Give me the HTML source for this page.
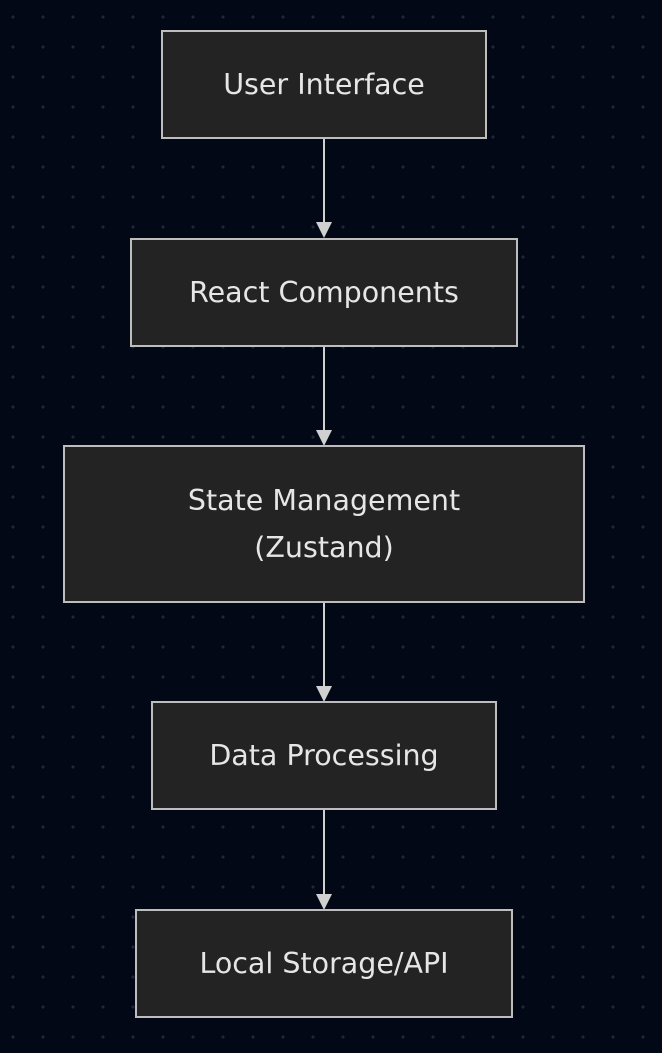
<!DOCTYPE html>
<html><head><meta charset="utf-8"><style>
html,body{margin:0;padding:0}
body{width:662px;height:1053px;background-color:#020816;
background-image:radial-gradient(circle,#20273a 1.4px,transparent 1.7px);
background-size:30px 30px;background-position:-2px 2px;position:relative;overflow:hidden;
font-family:"DejaVu Sans","Liberation Sans",sans-serif;}
.b{position:absolute;box-sizing:border-box;background:#232323;border:2px solid #bdbdbd;color:#e6e6e6;
display:flex;align-items:center;justify-content:center;text-align:center;font-size:28.5px;line-height:47px}
</style></head><body>
<svg width="662" height="1053" style="position:absolute;left:0;top:0">
<g stroke="#d0d0d0" stroke-width="2">
<line x1="324" y1="138" x2="324" y2="225"/>
<line x1="324" y1="346" x2="324" y2="432"/>
<line x1="324" y1="602" x2="324" y2="688"/>
<line x1="324" y1="809" x2="324" y2="896"/>
</g>
<g fill="#d0d0d0">
<polygon points="316,222 332,222 324,238"/>
<polygon points="316,430 332,430 324,446"/>
<polygon points="316,686 332,686 324,702"/>
<polygon points="316,894 332,894 324,910"/>
</g>
</svg>
<div class="b" style="left:161px;top:30px;width:326px;height:109px">User Interface</div>
<div class="b" style="left:130px;top:238px;width:388px;height:109px">React Components</div>
<div class="b" style="left:63px;top:445px;width:522px;height:158px">State Management<br>(Zustand)</div>
<div class="b" style="left:151px;top:701px;width:346px;height:109px">Data Processing</div>
<div class="b" style="left:135px;top:909px;width:378px;height:109px">Local Storage/API</div>
</body></html>
